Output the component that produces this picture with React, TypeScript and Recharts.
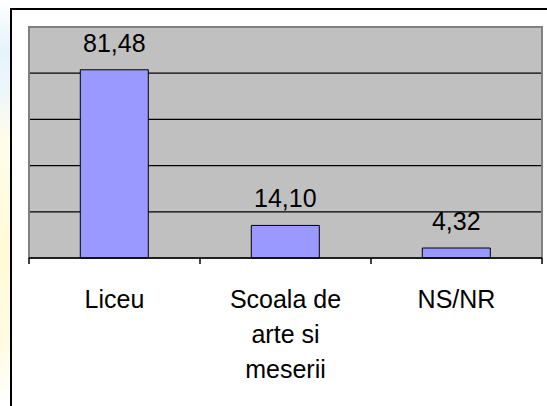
import React from "react";
import {
  BarChart,
  Bar,
  XAxis,
  YAxis,
  CartesianGrid,
  LabelList,
  ReferenceArea,
} from "recharts";

const categories = ["Liceu", "Scoala de arte si meserii", "NS/NR"];
const categoryLines = [["Liceu"], ["Scoala de", "arte si", "meserii"], ["NS/NR"]];
const values = [81.48, 14.1, 4.32];
const yTicks = [0, 20, 40, 60, 80, 100];
const boundaryTicks = [0, 1, 2, 3];

const data = categories.map((name, i) => ({ name, value: values[i], pos: i + 0.5 }));

const FONT = "'Liberation Sans', Arial, sans-serif";

const CatTick = (props: any) => {
  const { x, y, index } = props;
  const lines = categoryLines[index] || [String(props.payload.value)];
  return (
    <text
      x={x}
      y={y + 44}
      textAnchor="middle"
      fontSize={25}
      fontFamily={FONT}
      fill="#000"
    >
      {lines.map((l: string, i: number) => (
        <tspan key={i} x={x} dy={i === 0 ? 0 : 35}>
          {l}
        </tspan>
      ))}
    </text>
  );
};

const EmptyTick = () => <g />;

export default function App() {
  return (
    <div
      style={{
        position: "absolute",
        left: 0,
        top: 0,
        width: 547,
        height: 406,
        background: "#fff",
        overflow: "hidden",
      }}
    >
      <div
        style={{
          position: "absolute",
          left: 0,
          top: 0,
          width: 10,
          height: 406,
          background:
            "linear-gradient(to bottom, #ffffff 0px, #e6f3fb 50px, #eef6fb 90px, #fffde8 140px, #fffbd8 250px, #fffbe0 340px, #ffffff 406px)",
        }}
      />
      <div
        style={{
          position: "absolute",
          left: 10,
          top: 8,
          right: -2,
          bottom: -2,
          borderTop: "2px solid #000",
          borderLeft: "2px solid #000",
        }}
      />
      <div style={{ position: "absolute", left: 0, top: 0 }}>
        <BarChart
          width={547}
          height={406}
          data={data}
          margin={{ top: 27, right: 5, left: 29, bottom: 28 }}
          barCategoryGap="30%"
        >
          <CartesianGrid
            xAxisId="b"
            vertical={false}
            stroke="#000"
            strokeWidth={1.2}
            fill="#C0C0C0"
            fillOpacity={1}
          />
          <XAxis
            xAxisId="a"
            type="number"
            dataKey="pos"
            domain={[0, 3]}
            ticks={boundaryTicks}
            height={6}
            tick={<EmptyTick />}
            axisLine={{ stroke: "#000", strokeWidth: 1.5 }}
            tickLine={{ stroke: "#000", strokeWidth: 1.5 }}
            tickSize={6}
            tickMargin={0}
          />
          <XAxis
            xAxisId="b"
            dataKey="name"
            height={114}
            tickLine={false}
            tickSize={0}
            tickMargin={0}
            axisLine={false}
            tick={<CatTick />}
            interval={0}
          />
          <YAxis hide domain={[0, 100]} ticks={yTicks} />
          <ReferenceArea
            xAxisId="b"
            y1={0}
            y2={100}
            fill="none"
            stroke="#808080"
            strokeWidth={2}
            ifOverflow="visible"
          />
          <Bar
            xAxisId="b"
            dataKey="value"
            fill="#9999FF"
            stroke="#000"
            strokeWidth={1}
            isAnimationActive={false}
          >
            <LabelList
              dataKey="value"
              position="top"
              offset={18}
              formatter={(v: any) => Number(v).toFixed(2).replace(".", ",")}
              style={{ fontSize: 25, fontFamily: FONT, fill: "#000" }}
            />
          </Bar>
        </BarChart>
      </div>
    </div>
  );
}
